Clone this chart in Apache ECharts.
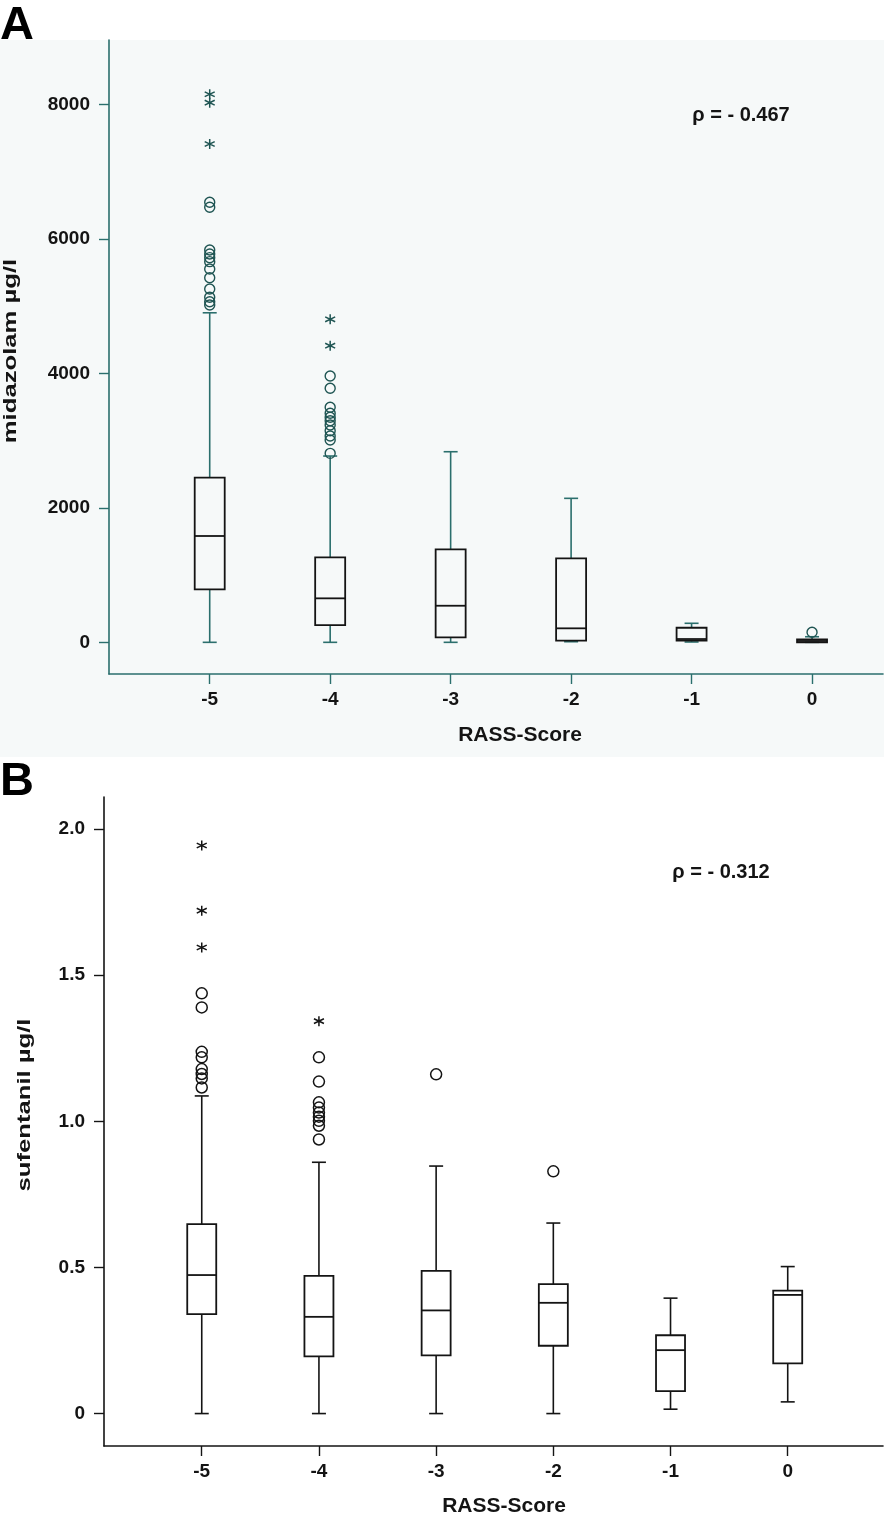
<!DOCTYPE html>
<html>
<head>
<meta charset="utf-8">
<script src="https://cdn.jsdelivr.net/npm/echarts@6/dist/echarts.min.js"></script>
<style>
  html, body { margin: 0; padding: 0; background: #fff; }
  #chart { width: 894px; height: 1537px; }
</style>
</head>
<body>
<div id="chart"></div>
<script>
// RASS score categories (shared by both panels)
const scores = [-5, -4, -3, -2, -1, 0];

// Panel A: midazolam (µg/l) -> [min, Q1, median, Q3, max] per score
const boxA = [
  [0, 788, 1581, 2448, 4900],
  [0, 257, 654, 1264, 2770],
  [0, 74, 544, 1383, 2834],
  [9, 24, 208, 1249, 2141],
  [5, 24, 49, 217, 283],
  [0, 0, 20, 45, 83]
];
const circlesA = [
  [6544, 6470, 5834, 5775, 5720, 5660, 5551, 5422, 5254, 5130, 5065, 5016],
  [3960, 3777, 3495, 3405, 3346, 3295, 3231, 3147, 3068, 3008, 2810],
  [], [], [],
  [149]
];
const starsA = [
  [8149, 8024, 7410],
  [4803, 4411],
  [], [], [], []
];
const yTicksA = [0, 2000, 4000, 6000, 8000];

// Panel B: sufentanil (µg/l)
const boxB = [
  [0, 0.340, 0.474, 0.648, 1.087],
  [0, 0.196, 0.331, 0.471, 0.860],
  [0, 0.199, 0.353, 0.488, 0.847],
  [0, 0.232, 0.379, 0.443, 0.652],
  [0.015, 0.077, 0.217, 0.268, 0.395],
  [0.040, 0.172, 0.406, 0.421, 0.503]
];
const circlesB = [
  [1.438, 1.390, 1.238, 1.219, 1.179, 1.162, 1.147, 1.116],
  [1.219, 1.136, 1.065, 1.047, 1.030, 1.016, 1.002, 0.985, 0.938],
  [1.161],
  [0.829],
  [], []
];
const starsB = [
  [1.944, 1.721, 1.595],
  [1.343],
  [], [], [], []
];
const yTicksB = [0, 0.5, 1.0, 1.5, 2.0];

const FONT = '"Liberation Sans", Arial, sans-serif';
const TEAL = '#2b6f6d';
const TEAL_DARK = '#1f5553';
const INK = '#141414';
const STAR = 'path://M5 0L5 10M0.8 2.6L9.2 7.4M0.8 7.4L9.2 2.6';

function boxData(boxes) {
  return boxes.map((b, i) => [scores[i]].concat(b));
}
function pointData(lists) {
  const out = [];
  lists.forEach((vals, i) => vals.forEach(v => out.push([scores[i], v])));
  return out;
}

function boxRender(whiskerColor, boxColor, halfW) {
  return function (params, api) {
    const x = api.value(0);
    const lo = api.coord([x, api.value(1)]);
    const q1 = api.coord([x, api.value(2)]);
    const md = api.coord([x, api.value(3)]);
    const q3 = api.coord([x, api.value(4)]);
    const hi = api.coord([x, api.value(5)]);
    const cx = lo[0];
    const cw = 7;
    const ws = { stroke: whiskerColor, lineWidth: 1.6 };
    const bs = { stroke: boxColor, lineWidth: 1.8, fill: null };
    return {
      type: 'group',
      children: [
        { type: 'line', shape: { x1: cx, y1: hi[1], x2: cx, y2: q3[1] }, style: ws },
        { type: 'line', shape: { x1: cx, y1: q1[1], x2: cx, y2: lo[1] }, style: ws },
        { type: 'line', shape: { x1: cx - cw, y1: hi[1], x2: cx + cw, y2: hi[1] }, style: ws },
        { type: 'line', shape: { x1: cx - cw, y1: lo[1], x2: cx + cw, y2: lo[1] }, style: ws },
        { type: 'rect', shape: { x: cx - halfW, y: q3[1], width: 2 * halfW, height: q1[1] - q3[1] }, style: bs },
        { type: 'line', shape: { x1: cx - halfW, y1: md[1], x2: cx + halfW, y2: md[1] }, style: { stroke: boxColor, lineWidth: 1.8 } }
      ]
    };
  };
}

function xAxisOpt(idx, min, max, color) {
  return {
    gridIndex: idx, type: 'value', min: min, max: max,
    axisLine: { show: true, onZero: false, lineStyle: { color: color, width: 1.6 } },
    axisTick: { show: true, length: 10, customValues: scores, lineStyle: { color: color, width: 1.4 } },
    axisLabel: { customValues: scores, margin: 16, color: INK, fontFamily: FONT, fontWeight: 'bold', fontSize: 19 },
    splitLine: { show: false }
  };
}
function yAxisOpt(idx, min, max, color, ticks, fmt) {
  return {
    gridIndex: idx, type: 'value', min: min, max: max,
    axisLine: { show: true, onZero: false, lineStyle: { color: color, width: 1.6 } },
    axisTick: { show: true, length: 10, customValues: ticks, lineStyle: { color: color, width: 1.4 } },
    axisLabel: { customValues: ticks, margin: 19, formatter: fmt, color: INK, fontFamily: FONT, fontWeight: 'bold', fontSize: 19 },
    splitLine: { show: false }
  };
}

const chart = echarts.init(document.getElementById('chart'));
chart.setOption({
  animation: false,
  backgroundColor: '#ffffff',
  grid: [
    { left: 109, top: 40, width: 774, height: 634 },
    { left: 104, top: 797, width: 779, height: 649 }
  ],
  xAxis: [
    xAxisOpt(0, -5.836, 0.589, TEAL),
    xAxisOpt(1, -5.834, 0.813, INK)
  ],
  yAxis: [
    yAxisOpt(0, -471, 8956, TEAL, yTicksA, v => String(v)),
    yAxisOpt(1, -0.111, 2.110, INK, yTicksB, v => (v === 0 ? '0' : v.toFixed(1)))
  ],
  graphic: [
    { type: 'rect', z: -10, silent: true, shape: { x: 0, y: 40, width: 884, height: 717 }, style: { fill: '#f6f9f9' } },
    { type: 'text', left: 0, top: 3, style: { text: 'A', font: 'bold 47px ' + FONT, fill: '#000' } },
    { type: 'text', left: 0, top: 759, style: { text: 'B', font: 'bold 47px ' + FONT, fill: '#000' } },
    { type: 'text', x: 741, y: 115, style: { text: 'ρ = - 0.467', font: 'bold 20px ' + FONT, fill: INK, align: 'center', verticalAlign: 'middle' } },
    { type: 'text', x: 721, y: 872, style: { text: 'ρ = - 0.312', font: 'bold 20px ' + FONT, fill: INK, align: 'center', verticalAlign: 'middle' } },
    { type: 'text', x: 520, y: 735, style: { text: 'RASS-Score', font: 'bold 21px ' + FONT, fill: INK, align: 'center', verticalAlign: 'middle' } },
    { type: 'text', x: 504, y: 1506, style: { text: 'RASS-Score', font: 'bold 21px ' + FONT, fill: INK, align: 'center', verticalAlign: 'middle' } },
    { type: 'text', x: 11, y: 351, rotation: Math.PI / 2, scaleX: 1.35, style: { text: 'midazolam µg/l', font: 'bold 19px ' + FONT, fill: INK, align: 'center', verticalAlign: 'middle' } },
    { type: 'text', x: 25, y: 1105, rotation: Math.PI / 2, scaleX: 1.35, style: { text: 'sufentanil µg/l', font: 'bold 19px ' + FONT, fill: INK, align: 'center', verticalAlign: 'middle' } }
  ],
  series: [
    {
      type: 'custom', xAxisIndex: 0, yAxisIndex: 0,
      renderItem: boxRender(TEAL, INK, 15),
      encode: { x: 0, y: [1, 2, 3, 4, 5] },
      data: boxData(boxA)
    },
    {
      type: 'scatter', xAxisIndex: 0, yAxisIndex: 0, symbol: 'circle', symbolSize: 10,
      itemStyle: { color: 'rgba(0,0,0,0)', borderColor: TEAL_DARK, borderWidth: 1.4, opacity: 1 },
      data: pointData(circlesA)
    },
    {
      type: 'scatter', xAxisIndex: 0, yAxisIndex: 0, symbol: STAR, symbolSize: 10,
      itemStyle: { color: 'rgba(0,0,0,0)', borderColor: TEAL_DARK, borderWidth: 1.5, opacity: 1 },
      data: pointData(starsA)
    },
    {
      type: 'custom', xAxisIndex: 1, yAxisIndex: 1,
      renderItem: boxRender(INK, INK, 14.5),
      encode: { x: 0, y: [1, 2, 3, 4, 5] },
      data: boxData(boxB)
    },
    {
      type: 'scatter', xAxisIndex: 1, yAxisIndex: 1, symbol: 'circle', symbolSize: 11,
      itemStyle: { color: 'rgba(0,0,0,0)', borderColor: INK, borderWidth: 1.5, opacity: 1 },
      data: pointData(circlesB)
    },
    {
      type: 'scatter', xAxisIndex: 1, yAxisIndex: 1, symbol: STAR, symbolSize: 10,
      itemStyle: { color: 'rgba(0,0,0,0)', borderColor: INK, borderWidth: 1.5, opacity: 1 },
      data: pointData(starsB)
    }
  ]
});
</script>
</body>
</html>
